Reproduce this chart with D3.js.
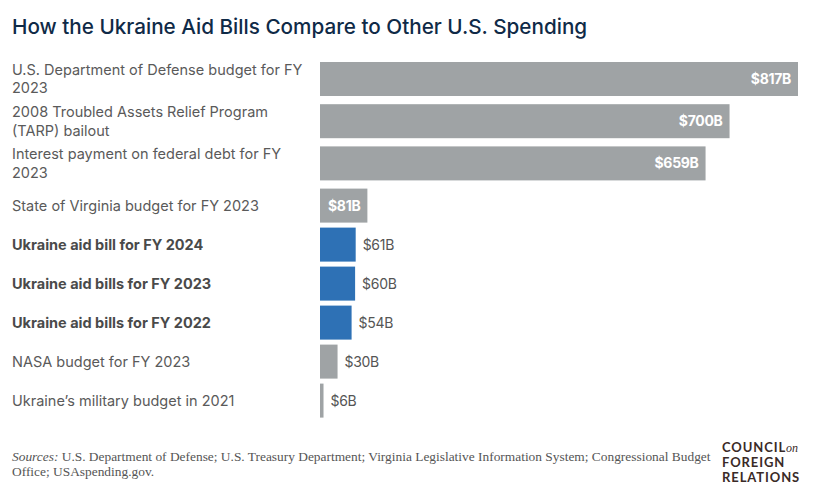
<!DOCTYPE html>
<html><head><meta charset="utf-8">
<script src="https://cdn.jsdelivr.net/npm/d3@7"></script>
<style>
html,body{margin:0;padding:0;background:#fff;}
svg{display:block;}
</style></head>
<body>
<svg id="chart" width="831" height="495"></svg>
<script>
const categories = [
  "U.S. Department of Defense budget for FY 2023",
  "2008 Troubled Assets Relief Program (TARP) bailout",
  "Interest payment on federal debt for FY 2023",
  "State of Virginia budget for FY 2023",
  "Ukraine aid bill for FY 2024",
  "Ukraine aid bills for FY 2023",
  "Ukraine aid bills for FY 2022",
  "NASA budget for FY 2023",
  "Ukraine’s military budget in 2021"
];
const values = [817, 700, 659, 81, 61, 60, 54, 30, 6];
const highlight = [false, false, false, false, true, true, true, false, false];
const valueLabels = ["$817B", "$700B", "$659B", "$81B", "$61B", "$60B", "$54B", "$30B", "$6B"];
const title = "How the Ukraine Aid Bills Compare to Other U.S. Spending";
const sourceLine1 = "U.S. Department of Defense; U.S. Treasury Department; Virginia Legislative Information System; Congressional Budget";
const sourceLine2 = "Office; USAspending.gov.";

const svg = d3.select("#chart");
const labelFont = "Inter, 'Open Sans', sans-serif";
const GRAY = "#9fa3a5", BLUE = "#2e71b5";

svg.append("text").attr("x", 12).attr("y", 34)
  .attr("font-family", "Inter, Roboto, sans-serif").attr("font-size", 20.7).attr("font-weight", 500)
  .attr("fill", "#0f2a47").text(title);

const x = d3.scaleLinear().domain([0, 817]).range([320, 798]);

// wrap labels
const wrapWidth = 300;
const tmp = svg.append("text").attr("font-family", labelFont).attr("font-size", 14.5);
function wrap(s, bold) {
  tmp.attr("font-weight", bold ? 700 : 400);
  const words = s.split(" "); const lines = []; let cur = "";
  words.forEach(w => {
    const t = cur ? cur + " " + w : w;
    tmp.text(t);
    if (tmp.node().getComputedTextLength() > wrapWidth && cur) { lines.push(cur); cur = w; }
    else cur = t;
  });
  lines.push(cur); return lines;
}
const wrapped = categories.map((c, i) => wrap(c, highlight[i]));
tmp.remove();

const barH = 34, lineH = 18.6, gap = 5;
const tops = []; let acc = 62;
wrapped.forEach(l => { tops.push(acc); acc += Math.max(barH, l.length * lineH) + gap; });
const y = d3.scaleOrdinal().domain(categories).range(tops);

const rows = svg.append("g").selectAll("g").data(categories).join("g");

rows.append("rect")
  .attr("x", x(0)).attr("y", d => y(d))
  .attr("width", (d, i) => x(values[i]) - x(0)).attr("height", barH)
  .attr("fill", (d, i) => highlight[i] ? BLUE : GRAY);

rows.append("text")
  .attr("font-family", labelFont).attr("font-size", 14.5)
  .attr("font-weight", (d, i) => highlight[i] ? 700 : 400)
  .attr("fill", (d, i) => highlight[i] ? "#4a4a4a" : "#5a5a5a")
  .each(function(d, i) {
    const lines = wrapped[i];
    const c = y(d) + barH / 2;
    const y0 = c - (lines.length - 1) * lineH / 2 + 5;
    d3.select(this).selectAll("tspan").data(lines).join("tspan")
      .attr("x", 12).attr("y", (l, k) => y0 + k * lineH).text(l => l);
  });

rows.append("text")
  .attr("font-family", labelFont).attr("font-size", 14)
  .attr("y", d => y(d) + barH / 2 + 5)
  .each(function(d, i) {
    const inside = values[i] >= 80;
    d3.select(this)
      .attr("x", inside ? x(values[i]) - 7 : x(values[i]) + 7)
      .attr("text-anchor", inside ? "end" : "start")
      .attr("font-weight", inside ? 700 : 400)
      .attr("letter-spacing", -0.3)
      .attr("fill", inside ? "#ffffff" : "#555555")
      .text(valueLabels[i]);
  });

// footer
const foot = svg.append("text").attr("font-family", "'Liberation Serif', serif").attr("font-size", 13.4).attr("fill", "#555");
foot.append("tspan").attr("x", 12).attr("y", 461).attr("font-style", "italic").text("Sources:");
foot.append("tspan").text(" " + sourceLine1);
svg.append("text").attr("font-family", "'Liberation Serif', serif").attr("font-size", 13.4).attr("fill", "#555")
  .attr("x", 12).attr("y", 476).text(sourceLine2);

// logo
const logo = svg.append("g").attr("font-family", "Lato, 'Open Sans', sans-serif").attr("font-weight", 700)
  .attr("font-size", 13).attr("fill", "#3a2a27").attr("letter-spacing", 0.9);
const l1 = logo.append("text").attr("x", 722).attr("y", 452);
l1.append("tspan").text("COUNCIL");
l1.append("tspan").attr("font-family", "'Liberation Serif', serif").attr("font-style", "italic").attr("font-weight", 400).attr("letter-spacing", 0).attr("font-size", 12).text("on");
logo.append("text").attr("x", 722).attr("y", 467).text("FOREIGN");
logo.append("text").attr("x", 722).attr("y", 482).text("RELATIONS");
</script>
</body></html>
